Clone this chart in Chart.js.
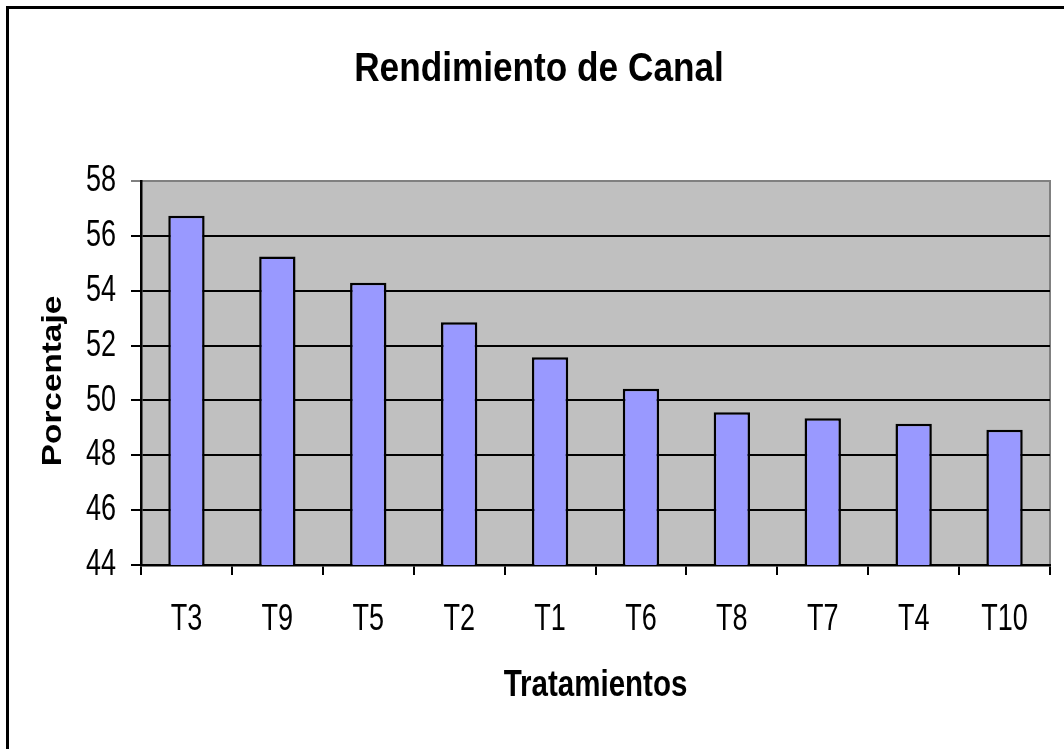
<!DOCTYPE html>
<html>
<head>
<meta charset="utf-8">
<script src="https://cdn.jsdelivr.net/npm/chart.js@4/dist/chart.umd.min.js"></script>
<style>
  html, body { margin: 0; padding: 0; background: #fff; overflow: hidden; }
  #wrap { position: relative; width: 1064px; height: 749px; }
  #frame {
    position: absolute; left: 6px; top: 6px; width: 1100px; height: 800px;
    border-left: 3px solid #000; border-top: 3px solid #000; pointer-events: none;
  }
</style>
</head>
<body>
<div id="wrap">
  <canvas id="chart" width="1064" height="749"></canvas>
  <div id="frame"></div>
</div>
<script>
// data
const tratamientos = ['T3', 'T9', 'T5', 'T2', 'T1', 'T6', 'T8', 'T7', 'T4', 'T10'];
const porcentaje = [56.73, 55.25, 54.29, 52.85, 51.57, 50.43, 49.57, 49.35, 49.15, 48.93];
const yMin = 44, yMax = 58, yStep = 2;

const chartTitle = 'Rendimiento de Canal';
const xTitle = 'Tratamientos';
const yTitle = 'Porcentaje';

const SANS = '"Liberation Sans", Arial, sans-serif';

// no narrow font installed, so squeeze the text horizontally by hand
function drawText(ctx, text, x, y, size, bold, sx, align, rot) {
  ctx.save();
  ctx.translate(x, y);
  if (rot) ctx.rotate(rot);
  ctx.scale(sx, 1);
  ctx.font = (bold ? 'bold ' : '') + size + 'px ' + SANS;
  ctx.textAlign = align;
  ctx.textBaseline = 'middle';
  ctx.fillStyle = '#000';
  ctx.fillText(text, 0, 0);
  ctx.restore();
}

// gray plot area + gray top/right edge
const plotBg = {
  id: 'plotBg',
  beforeDraw(chart) {
    const {ctx, chartArea: a} = chart;
    ctx.save();
    ctx.fillStyle = '#C0C0C0';
    ctx.fillRect(a.left, a.top, a.right - a.left, a.bottom - a.top);
    ctx.strokeStyle = '#808080';
    ctx.lineWidth = 2;
    ctx.beginPath();
    ctx.moveTo(a.left, a.top);
    ctx.lineTo(a.right, a.top);
    ctx.lineTo(a.right, a.bottom);
    ctx.stroke();
    ctx.restore();
  }
};

// titles and tick labels, placed from the library's scales
const labelsPlugin = {
  id: 'labelsPlugin',
  afterDraw(chart) {
    const {ctx, chartArea: a, scales} = chart;
    const xs = scales.x, ys = scales.y;

    ys.ticks.forEach((t) => {
      drawText(ctx, String(t.value), ys.right - 25, ys.getPixelForValue(t.value), 37, false, 0.73, 'right');
    });
    xs.ticks.forEach((t, i) => {
      drawText(ctx, tratamientos[i], xs.getPixelForTick(i), a.bottom + 55, 37, false, 0.73, 'center');
    });

    drawText(ctx, chartTitle, 539, 70, 40, true, 0.88, 'center');
    drawText(ctx, xTitle, (a.left + a.right) / 2, 686, 36, true, 0.82, 'center');
    drawText(ctx, yTitle, 53, (a.top + a.bottom) / 2 + 8, 28, true, 1.19, 'center', -Math.PI / 2);
  }
};

const ctx = document.getElementById('chart').getContext('2d');
new Chart(ctx, {
  type: 'bar',
  data: {
    labels: tratamientos,
    datasets: [{
      data: porcentaje,
      backgroundColor: '#9999FF',
      borderColor: '#000000',
      borderWidth: 2.5,
      categoryPercentage: 1,
      barPercentage: 0.4
    }]
  },
  options: {
    responsive: false,
    animation: false,
    layout: { padding: { left: 0, right: 14, top: 181, bottom: 0 } },
    plugins: {
      legend: { display: false },
      tooltip: { enabled: false },
      title: { display: false }
    },
    scales: {
      x: {
        grid: { display: true, drawOnChartArea: false, drawTicks: true, tickLength: 10, color: '#000', lineWidth: 2 },
        border: { color: '#000', width: 2.5 },
        ticks: { color: 'rgba(0,0,0,0)', font: { size: 30 }, padding: 24, maxRotation: 0 },
        title: { display: false },
        afterFit(scale) { scale.height = 184; }
      },
      y: {
        min: yMin,
        max: yMax,
        grid: {
          color: (c) => (c.tick && c.tick.value === yMax ? '#808080' : '#000'),
          lineWidth: 2,
          tickLength: 10,
          drawTicks: true
        },
        border: { color: '#000', width: 2.5 },
        ticks: { stepSize: yStep, color: 'rgba(0,0,0,0)', font: { size: 30 }, padding: 14 },
        title: { display: false },
        afterFit(scale) { scale.width = 141; }
      }
    }
  },
  plugins: [plotBg, labelsPlugin]
});
</script>
</body>
</html>
